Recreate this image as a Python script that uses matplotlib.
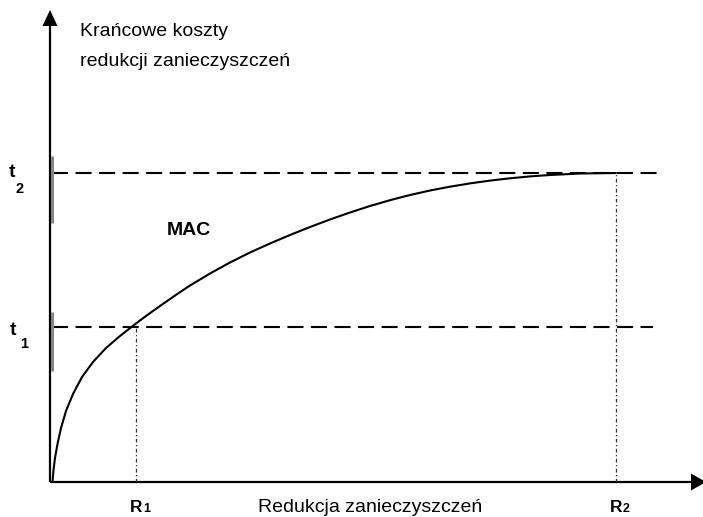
import matplotlib
matplotlib.use("Agg")
import matplotlib.pyplot as plt

plt.rcParams['font.family'] = ['Liberation Sans', 'DejaVu Sans']

# ---- data (chart units) ----
curve_x = [2.5, 3.5, 5, 7.5, 11, 16, 23, 32, 43, 56, 70, 84, 98, 115, 128, 140,
           160, 180, 200, 220, 240, 260, 280, 300, 320, 340, 360, 380, 400,
           420, 440, 460, 480, 500, 530, 566]
curve_y = [0, 12, 24, 38, 54, 71, 88, 105, 120, 134, 146, 157, 167.5, 179.5,
           188.5, 196.5, 208.5, 219.5, 229.5, 238.5, 247, 255, 262.5, 269.5,
           276, 281.8, 287, 291.5, 295.3, 298.6, 301.4, 303.7, 305.6, 307,
           308.5, 309]
t_levels = [155, 309]
t_labels = ["1", "2"]
R_levels = [86, 566]
R_labels = ["1", "2"]
t_line_end = [603, 613]

fig = plt.figure(figsize=(7.03, 5.17), dpi=100)
ax = fig.add_axes([50/703, 35/517, 653/703, 482/517])
ax.set_xlim(0, 653)
ax.set_ylim(0, 482)
ax.axis('off')

# axes with arrows
ax.plot([0, 0], [0, 460], color='black', lw=1.6, clip_on=False, solid_capstyle='butt')
ax.plot([0, 645], [0, 0], color='black', lw=1.6, clip_on=False, solid_capstyle='butt')
ax.fill([-7.5, 7.5, 0], [456, 456, 472], color='black', clip_on=False, lw=0)
ax.fill([641, 641, 656], [-8.5, 8.5, 0], color='black', clip_on=False, lw=0)

# horizontal dashed lines
for t, xe in zip(t_levels, t_line_end):
    ax.plot([2, xe], [t, t], color='black', lw=1.5, dashes=(7.7, 3.6), clip_on=False)

# grey ticks on y axis
ax.plot([2, 2], [259, 326], color='#858585', lw=2.2, clip_on=False, solid_capstyle='butt')
ax.plot([2, 2], [111, 170], color='#858585', lw=2.2, clip_on=False, solid_capstyle='butt')

# vertical dash-dot lines
for r, t in zip(R_levels, t_levels):
    ax.plot([r, r], [0, t], color='#333333', lw=0.9, linestyle=(0, (3, 2, 1, 2)))

# MAC curve
ax.plot(curve_x, curve_y, color='black', lw=1.5, solid_capstyle='round', solid_joinstyle='round')

# texts
ax.text(30, 445.5, "Krańcowe koszty", fontsize=14, va='baseline', ha='left')
ax.text(30, 415.5, "redukcji zanieczyszczeń", fontsize=14, va='baseline', ha='left')
ax.text(117, 247, "MAC", fontsize=14, fontweight='bold', va='baseline', ha='left')
ax.text(208, -30, "Redukcja zanieczyszczeń", fontsize=14, va='baseline', ha='left')

for r, lab in zip(R_levels, R_labels):
    ax.text(r - 6, -30, "R", fontsize=12.5, fontweight='bold', va='baseline', ha='left')
    ax.text(r + 7, -30, lab, fontsize=9, fontweight='bold', va='baseline', ha='left')

t_pos = [(-40, 147, -30, 134), (-41, 305, -34, 289)]
for (tx, ty, sx, sy), lab in zip(t_pos, t_labels):
    ax.text(tx, ty, "t", fontsize=14, fontweight='bold', va='baseline', ha='left')
    ax.text(sx, sy, lab, fontsize=10.5, fontweight='bold', va='baseline', ha='left')

fig.savefig("out.png", dpi=100)
